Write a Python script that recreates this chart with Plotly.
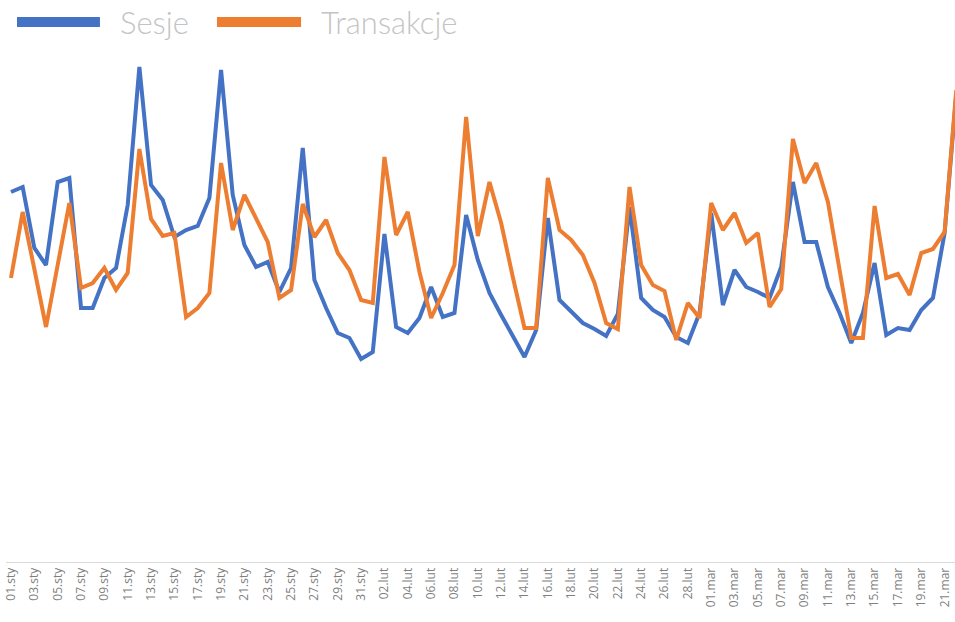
import plotly.graph_objects as go

# dni: styczeń, luty (rok przestępny), marzec do 22.
months = [("sty", 31), ("lut", 29), ("mar", 22)]
dates = [f"{d:02d}.{m}" for m, n in months for d in range(1, n + 1)]

sesje = [370, 375, 314, 297, 380, 384, 254, 254, 284, 294,
         357, 495, 377, 362, 325, 332, 336, 364, 492, 367,
         317, 295, 300, 270, 294, 414, 282, 254, 229, 224,
         203, 210, 328, 235, 229, 244, 275, 245, 249, 347,
         302, 269, 247, 225, 205, 232, 344, 262, 250, 239,
         233, 226, 248, 355, 264, 252, 245, 225, 219, 249,
         349, 257, 292, 275, 270, 264, 295, 380, 320, 320,
         275, 249, 219, 249, 299, 227, 234, 232, 252, 264,
         329, 468]

transakcje = [284, 350, 293, 235, 297, 359, 274, 279, 294, 272,
              289, 413, 343, 326, 329, 245, 254, 269, 399, 332,
              367, 344, 320, 264, 272, 358, 325, 342, 309, 292,
              262, 259, 405, 327, 350, 290, 244, 269, 297, 445,
              326, 380, 339, 285, 234, 234, 384, 332, 322, 307,
              279, 239, 233, 375, 297, 277, 271, 222, 259, 244,
              359, 332, 349, 319, 329, 255, 273, 423, 379, 399,
              360, 292, 224, 224, 356, 284, 288, 267, 309, 313,
              330, 472]

BLUE = "#4472C4"
ORANGE = "#ED7D31"
GREY_TXT = "#c4c4c4"

fig = go.Figure()
fig.add_trace(go.Scatter(x=dates, y=sesje, mode="lines", name="Sesje",
                         line=dict(color=BLUE, width=4)))
fig.add_trace(go.Scatter(x=dates, y=transakcje, mode="lines", name="Transakcje",
                         line=dict(color=ORANGE, width=4)))

# własna legenda na górze
leg_y = 1.0345
for x0, x1, col, label, tx in [(0.0116, 0.099, BLUE, "Sesje", 0.118),
                               (0.2223, 0.3109, ORANGE, "Transakcje", 0.3298)]:
    fig.add_shape(type="line", xref="paper", yref="paper", x0=x0, x1=x1,
                  y0=leg_y, y1=leg_y, line=dict(color=col, width=10))
    fig.add_annotation(xref="paper", yref="paper", x=tx, y=leg_y, text=label,
                       showarrow=False, xanchor="left", yanchor="middle",
                       font=dict(family="Lato", size=31, color=GREY_TXT, weight=300))

fig.update_layout(
    width=955, height=622,
    margin=dict(l=6, r=0, t=40, b=60),
    paper_bgcolor="white", plot_bgcolor="white",
    showlegend=False,
)
fig.update_xaxes(type="category", dtick=2, tickangle=-90, range=[-0.428, 80.89],
                 showgrid=False, showline=True, linecolor="#d9d9d9", linewidth=1,
                 ticks="", tickfont=dict(family="Open Sans", size=12, color="#7f7f7f"))
fig.update_yaxes(range=[0, 522], visible=False, showgrid=False)

fig.write_html("out.html", config={"displayModeBar": False},
               post_script="document.body.style.margin='0';")
